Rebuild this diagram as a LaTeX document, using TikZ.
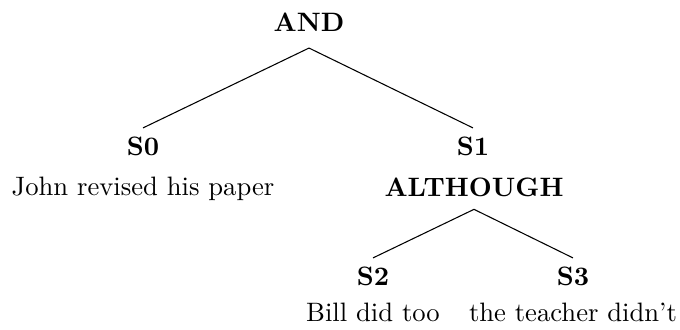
\documentclass[tikz,border=0pt]{standalone}
\begin{document}
\begin{tikzpicture}[x=0.3755pt,y=-0.3755pt,
  lbl/.style={inner sep=0pt,anchor=base},
  bl/.style={lbl,font=\bfseries},
  edge/.style={line width=0.4pt}]
\useasboundingbox (0,0) rectangle (680,329);
\node[bl] (and) at (309,31) {AND};
\node[bl] (s0) at (143,155) {S0};
\node[lbl] (t0) at (143,195) {John revised his paper};
\node[bl] (s1) at (473,155) {S1};
\node[bl] (alt) at (474,196) {ALTHOUGH};
\node[bl] (s2) at (373,285) {S2};
\node[bl] (s3) at (573,285) {S3};
\node[lbl] (t2) at (373,321) {Bill did too};
\node[lbl] (t3) at (573,321) {the teacher didn't};
\draw[edge] ([yshift=-6.2pt]and.south) -- ([yshift=3pt]s0.north);
\draw[edge] ([yshift=-6.2pt]and.south) -- ([yshift=3pt]s1.north);
\draw[edge] ([yshift=-4.7pt]alt.south) -- ([yshift=3pt]s2.north);
\draw[edge] ([yshift=-4.7pt]alt.south) -- ([yshift=3pt]s3.north);
\end{tikzpicture}
\end{document}
